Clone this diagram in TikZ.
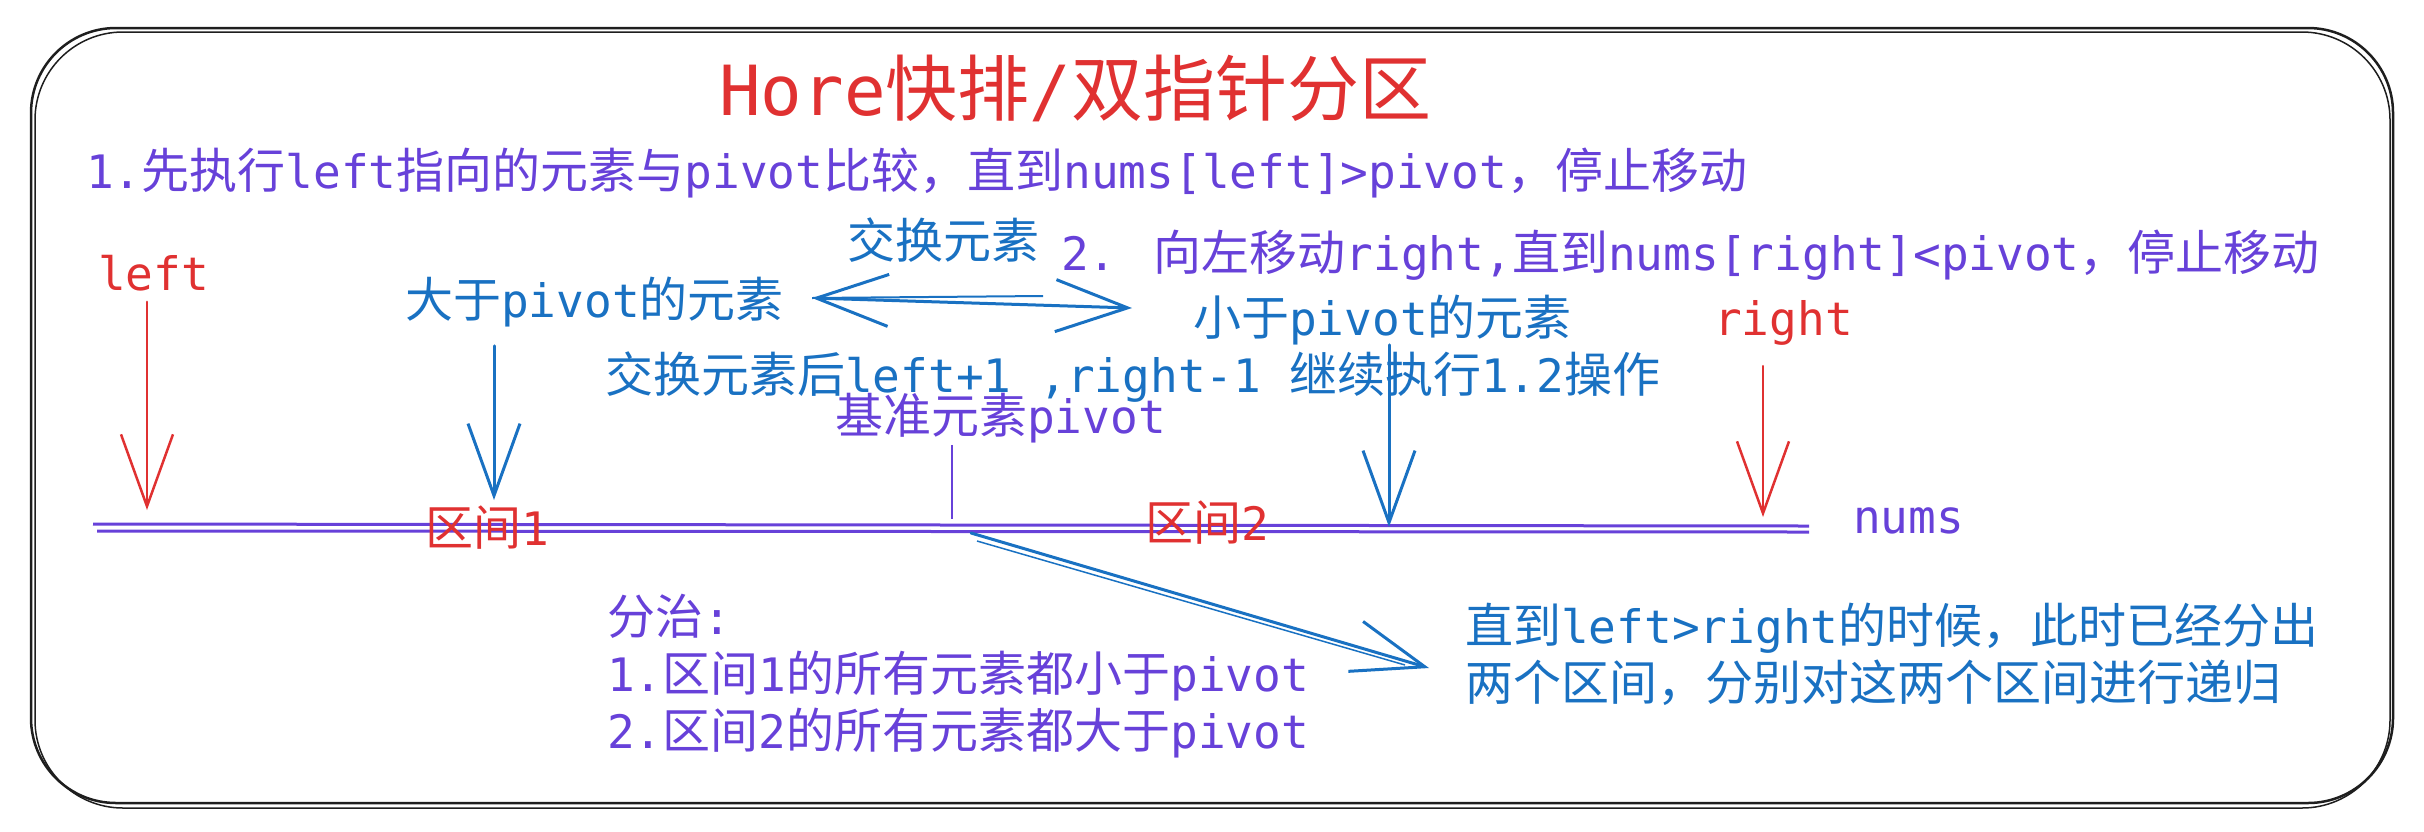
\documentclass[tikz,border=0pt]{standalone}
\usepackage{fontspec}
\setmainfont[Scale=0.96]{DejaVu Sans Mono}
\newfontfamily\cjk{Noto Sans CJK SC}
\usetikzlibrary{arrows.meta}
\definecolor{exviolet}{HTML}{6741D9}
\definecolor{exblue}{HTML}{1971C2}
\definecolor{exred}{HTML}{E03131}
\definecolor{exink}{HTML}{1E1E1E}
\newcommand{\zh}[1]{{\cjk #1}}
\begin{document}
\begin{tikzpicture}[x=1pt, y=-1pt,
    txt/.style={inner sep=0pt, anchor=base west, font=\fontsize{48}{57}\selectfont},
    barb/.style={-{Straight Barb[length=72pt,width=52pt]}, line width=3pt, line cap=round},
    dbarb/.style={{Straight Barb[length=72pt,width=52pt]}-{Straight Barb[length=72pt,width=52pt]}, line width=3pt, line cap=round}]
    \useasboundingbox (0,0) rectangle (2424,831);

    % frame
    \draw[exink, line width=2.5pt, rounded corners=85pt] (31,28) rectangle (2393,803);
    \draw[exink, line width=1.5pt, rounded corners=88pt] (35,32) rectangle (2390,808);

    \node[txt, text=exred, font=\fontsize{72}{80}\selectfont] (title) at (719,115) {Hore\zh{快排}/\zh{双指针分区}};
    \node[txt, text=exviolet] (step1) at (86,188) {1.\zh{先执行}left\zh{指向的元素与}pivot\zh{比较，直到}nums[left]>pivot\zh{，停止移动}};

    \node[txt, text=exred] (lft) at (98,290) {left};
    \node[txt, text=exblue] (swap) at (847,258) {\zh{交换元素}};
    \node[txt, text=exviolet] (step2) at (1061,270) {2. \zh{向左移动}right,\zh{直到}nums[right]<pivot\zh{，停止移动}};
    \node[txt, text=exblue] (bigger) at (405,317) {\zh{大于}pivot\zh{的元素}};
    \node[txt, text=exblue] (smaller) at (1193,335) {\zh{小于}pivot\zh{的元素}};
    \node[txt, text=exred] (rgt) at (1714,335) {right};
    \node[txt, text=exblue] (after) at (605,392) {\zh{交换元素后}left+1 ,right-1 \zh{继续执行}1.2\zh{操作}};
    \node[txt, text=exviolet] (pivot) at (835,433) {\zh{基准元素}pivot};

    % nums axis
    \draw[exviolet, line width=3pt] (93,524) -- (1809,526);
    \draw[exviolet, line width=3pt] (97,531) -- (1809,532);
    \node[txt, text=exviolet] (nums) at (1853,533) {nums};
    \node[txt, text=exred] (part1) at (425,545) {\zh{区间}1};
    \node[txt, text=exred] (part2) at (1145,540) {\zh{区间}2};

    \node[txt, text=exviolet, align=left] (divide) at (607,748) {\zh{分治}:\\1.\zh{区间}1\zh{的所有元素都小于}pivot\\2.\zh{区间}2\zh{的所有元素都大于}pivot};
    \node[txt, text=exblue, align=left] (recurse) at (1465,700) {\zh{直到}left>right\zh{的时候，此时已经分出}\\\zh{两个区间，分别对这两个区间进行递归}};

    % pointers
    \coordinate (ltip) at (147,510);
    \coordinate (bigtip) at (494,500);
    \coordinate (pivmark) at (952,519);
    \coordinate (smalltip) at (1389,527);
    \coordinate (rtip) at (1763,517);
    \draw[barb, exred, line width=2.5pt, shorten <=11pt] (ltip |- lft.south) -- (ltip);
    \draw[barb, exblue, shorten <=19pt] (bigtip |- bigger.south) -- (bigtip);
    \draw[exviolet, line width=2.5pt, shorten <=2pt] (pivmark |- pivot.south) -- (pivmark);
    \draw[barb, exblue] (smalltip |- smaller.south) -- (smalltip);
    \draw[barb, exred, line width=2.5pt, shorten <=21pt] (rtip |- rgt.south) -- (rtip);

    % swap
    \coordinate (swapL) at (812,298);
    \coordinate (swapR) at (1132,308);
    \draw[dbarb, exblue] (swapL) -- (swapR);
    \draw[exblue, line width=2pt] (swapL) -- (1043,296);

    % divide and conquer
    \coordinate (divL) at (971,533);
    \coordinate (divR) at (1429,668);
    \draw[barb, exblue] (divL) -- (divR);
    \draw[exblue, line width=1.5pt] (977,541) -- (1405,665);
  \end{tikzpicture}
\end{document}
